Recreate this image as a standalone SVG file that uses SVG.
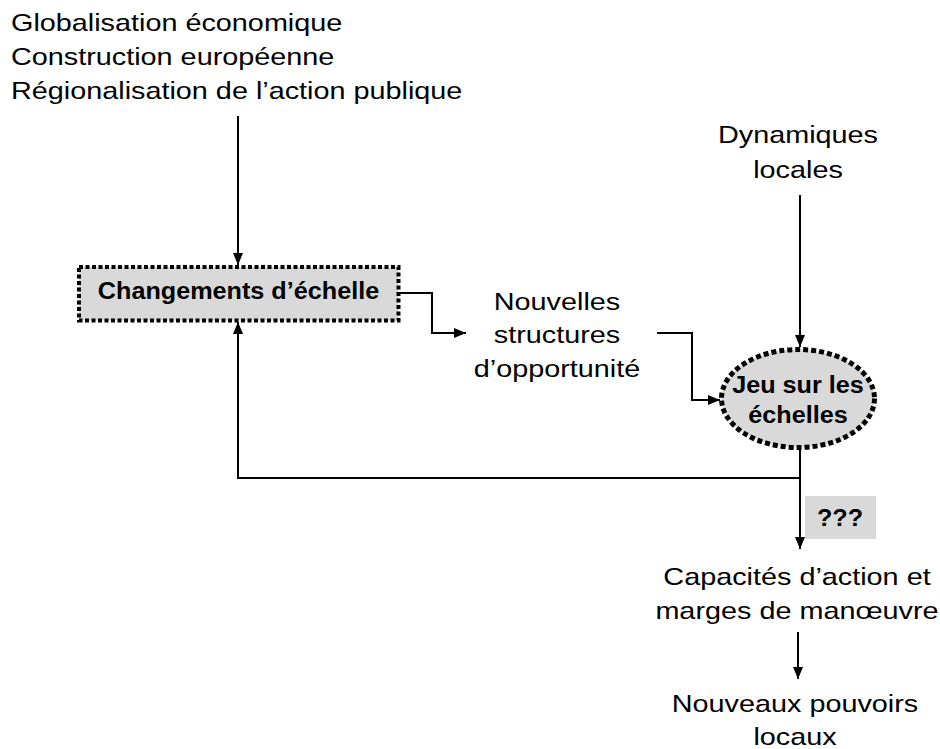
<svg xmlns="http://www.w3.org/2000/svg" width="940" height="749" viewBox="0 0 940 749">
<defs>
<style>
.t{font-family:"Liberation Sans",Arial,sans-serif;font-size:24px;fill:#000;text-anchor:middle}
.ts{font-family:"Liberation Sans",Arial,sans-serif;font-size:24px;fill:#000;text-anchor:start}
.b{font-family:"Liberation Sans",Arial,sans-serif;font-size:24px;font-weight:bold;fill:#000;text-anchor:middle}
.c{fill:none;stroke:#000;stroke-width:2}
.node{fill:#d9d9d9;stroke:#000;stroke-width:4;stroke-dasharray:4 2.5}
</style>
<marker id="ah" markerUnits="userSpaceOnUse" markerWidth="12" markerHeight="10" refX="12" refY="5" orient="auto">
<path d="M0,0 L12,5 L0,10 z" fill="#000"/>
</marker>
</defs>
<rect width="940" height="749" fill="#fff"/>
<g id="connectors">
<path class="c" d="M238,116 V265" marker-end="url(#ah)"/>
<path class="c" d="M400,293 H432 V333 H466" marker-end="url(#ah)"/>
<path class="c" d="M657,333 H692 V400 H720" marker-end="url(#ah)"/>
<path class="c" d="M800,195 V347" marker-end="url(#ah)"/>
<path class="c" d="M800,450 V549" marker-end="url(#ah)"/>
<path class="c" d="M800,478 H238 V322" marker-end="url(#ah)"/>
<path class="c" d="M798,632 V679" marker-end="url(#ah)"/>
</g>
<g id="forces">
<text class="ts" transform="translate(11,31) scale(1.2,1)">Globalisation économique</text>
<text class="ts" transform="translate(11,65) scale(1.2,1)">Construction européenne</text>
<text class="ts" transform="translate(11,99) scale(1.2,1)">Régionalisation de l’action publique</text>
</g>
<g id="changements">
<rect class="node" x="79" y="267" width="319.5" height="53.5"/>
<text class="b" transform="translate(238.5,299) scale(1.05,1)">Changements d’échelle</text>
</g>
<g id="dynamiques">
<text class="t" transform="translate(798,143) scale(1.2,1)">Dynamiques</text>
<text class="t" transform="translate(798,178) scale(1.2,1)">locales</text>
</g>
<g id="structures">
<text class="t" transform="translate(557,310) scale(1.2,1)">Nouvelles</text>
<text class="t" transform="translate(557,343) scale(1.2,1)">structures</text>
<text class="t" transform="translate(557,377) scale(1.2,1)">d’opportunité</text>
</g>
<g id="jeu">
<ellipse cx="798" cy="398.5" rx="76.5" ry="49" fill="#d9d9d9" stroke="#000" stroke-width="5" stroke-dasharray="5 3"/>
<text class="b" transform="translate(798,393) scale(1.05,1)">Jeu sur les</text>
<text class="b" transform="translate(798,423) scale(1.05,1)">échelles</text>
</g>
<g id="question">
<rect x="805" y="496" width="71" height="43" fill="#d9d9d9"/>
<text class="b" transform="translate(840,526) scale(1.05,1)">???</text>
</g>
<g id="capacites">
<text class="t" transform="translate(797,585) scale(1.2,1)">Capacités d’action et</text>
<text class="t" transform="translate(797,619) scale(1.2,1)">marges de manœuvre</text>
</g>
<g id="pouvoirs">
<text class="t" transform="translate(795,712) scale(1.2,1)">Nouveaux pouvoirs</text>
<text class="t" transform="translate(795,745) scale(1.2,1)">locaux</text>
</g>
</svg>
